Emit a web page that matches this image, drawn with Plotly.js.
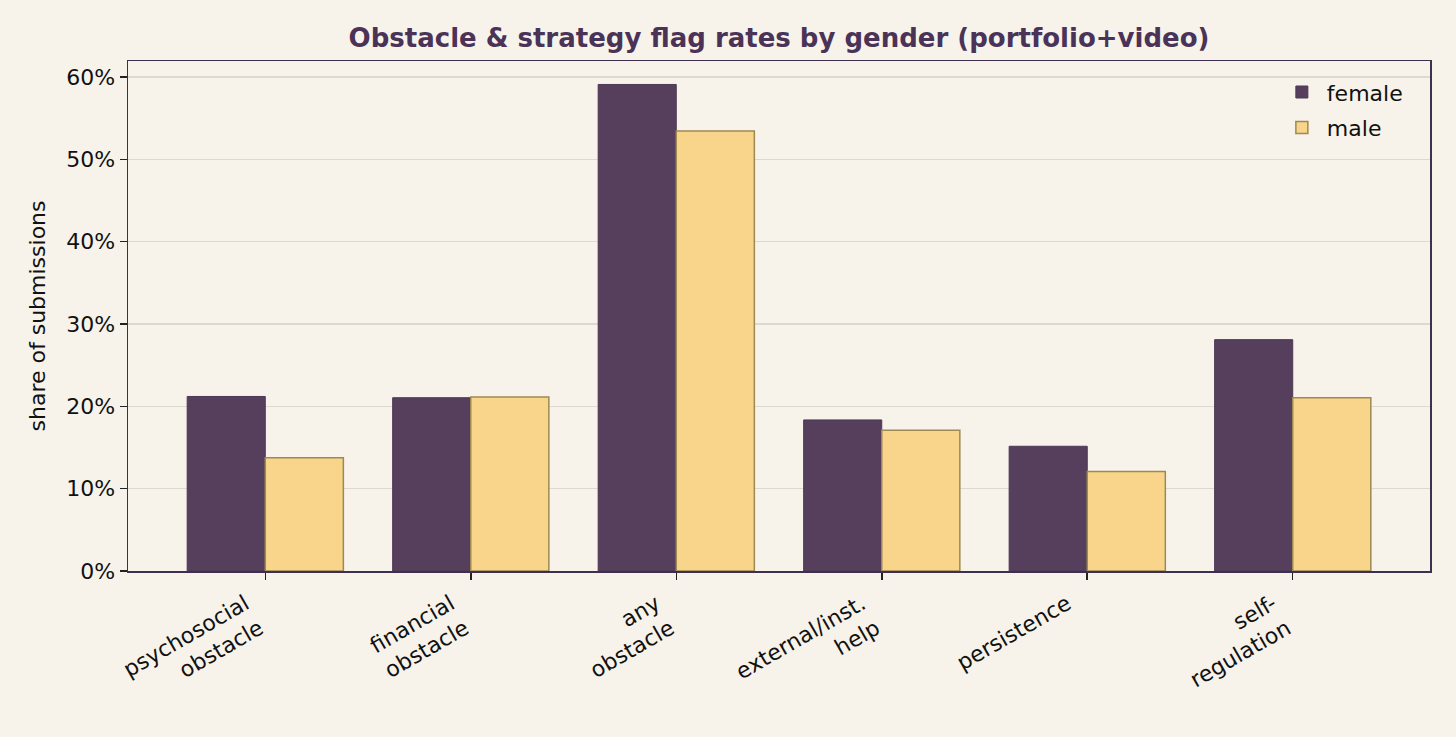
<!DOCTYPE html>
<html>
<head>
<meta charset="utf-8">
<script src="https://cdn.plot.ly/plotly-3.0.1.min.js"></script>
<style>html,body{margin:0;padding:0;background:#f7f3eb;}</style>
</head>
<body>
<div id="chart" style="width:1456px;height:737px;"></div>
<script>
const categories = ["psychosocial<br>obstacle", "financial<br>obstacle", "any<br>obstacle", "external/inst.<br>help", "persistence", "self-<br>regulation"];
const femaleValues = [21.2, 21.05, 59.1, 18.35, 15.15, 28.1];
const maleValues = [13.75, 21.15, 53.45, 17.1, 12.1, 21.05];
const yTickVals = [0, 10, 20, 30, 40, 50, 60];
const yTickText = ["0%", "10%", "20%", "30%", "40%", "50%", "60%"];

const font = "DejaVu Sans, Verdana, sans-serif";
const fs = 22;
const traces = [
  {type: "bar", name: "female", legendgroup: "f", x: categories, y: femaleValues,
   marker: {color: "#553f5c", line: {color: "#4d3856", width: 1}}},
  {type: "bar", name: "male", legendgroup: "m", x: categories, y: maleValues,
   marker: {color: "#f8d58b", line: {color: "#9c8a52", width: 1.5}}}
];
const layout = {
  width: 1456, height: 737,
  paper_bgcolor: "#f7f3eb", plot_bgcolor: "#f7f3eb",
  margin: {l: 128, r: 26, t: 61, b: 166},
  barmode: "group", bargap: 0.24, bargroupgap: 0,
  font: {family: font, size: fs, color: "#111"},
  title: {text: "<b>Obstacle & strategy flag rates by gender (portfolio+video)</b>",
          font: {family: font, size: 26, color: "#4b3358"},
          x: 0.5, xanchor: "center", xref: "paper", y: 0.948, yanchor: "middle"},
  xaxis: {type: "category", range: [-0.668, 5.668], showline: true, linecolor: "#3f2f4f",
          linewidth: 1.5, mirror: true, ticks: "outside", ticklen: 7, tickwidth: 1.5,
          tickcolor: "#222", tickangle: -30, showgrid: false, zeroline: false,
          ticklabelshift: -20, ticklabelstandoff: 3,
          tickfont: {family: font, size: fs, color: "#111"}},
  yaxis: {range: [0, 61.95], tickvals: yTickVals, ticktext: yTickText,
          showline: true, linecolor: "#3f2f4f", linewidth: 1.5, mirror: true,
          ticks: "outside", ticklen: 7, tickwidth: 1.5, tickcolor: "#222",
          showgrid: true, gridcolor: "rgba(200,195,185,0.55)", gridwidth: 1.5, zeroline: false,
          tickfont: {family: font, size: fs, color: "#111"},
          title: {text: "share of submissions", font: {family: font, size: fs, color: "#111"}, standoff: 14}},
  legend: {x: 0.983, xanchor: "right", y: 0.98, yanchor: "top", bgcolor: "rgba(0,0,0,0)",
           font: {family: font, size: fs, color: "#111"}, itemwidth: 40, tracegroupgap: 4},
  showlegend: true
};
Plotly.newPlot("chart", traces, layout, {displayModeBar: false, staticPlot: true});
</script>
</body>
</html>
